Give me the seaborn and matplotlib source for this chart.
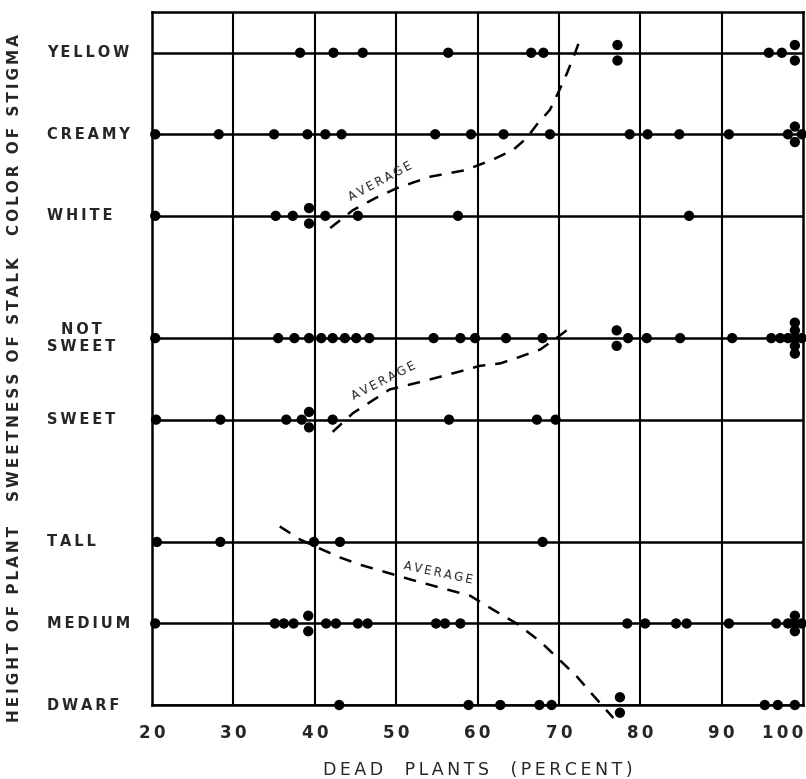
import matplotlib
matplotlib.use("Agg")
import matplotlib.pyplot as plt
import matplotlib.transforms as mtransforms
import numpy as np
import pandas as pd
import seaborn as sns

# dead plants (percent) for each class; repeated values get stacked round the row line
yellow = [38.2, 42.3, 45.9, 56.4, 66.6, 68.1, 77.2, 77.2, 95.8, 97.4, 99, 99]
creamy = [20.4, 28.2, 35.0, 39.1, 41.3, 43.3, 54.8, 59.2, 63.2, 68.9, 78.7, 80.9,
          84.8, 90.9, 99, 99, 99, 99]
white = [20.4, 35.2, 37.3, 39.3, 39.3, 41.3, 45.3, 57.6, 86.0]
not_sweet = [20.4, 35.5, 37.5, 39.3, 40.8, 42.2, 43.7, 45.1, 46.7, 54.6, 57.9, 59.7,
             63.5, 68.0, 77.1, 77.1, 78.5, 80.8, 84.9, 91.3, 96.1, 97.2,
             99, 99, 99, 99, 99, 99, 99]
sweet = [20.5, 28.4, 36.5, 38.4, 39.3, 39.3, 42.2, 56.5, 67.3, 69.6]
tall = [20.6, 28.4, 39.9, 43.1, 68.0]
medium = [20.4, 35.1, 36.2, 37.4, 39.2, 39.2, 41.4, 42.6, 45.3, 46.5, 54.9, 56.0, 57.9,
          78.4, 80.6, 84.4, 85.7, 90.9, 96.7, 99, 99, 99, 99, 99]
dwarf = [43.0, 58.9, 62.8, 67.6, 69.1, 77.5, 77.5, 95.3, 96.9, 99.0]

row_names = ["YELLOW", "CREAMY", "WHITE", "NOT\nSWEET", "SWEET", "TALL", "MEDIUM", "DWARF"]
row_pos = [0, 1, 2, 3.5, 4.5, 6, 7, 8]
row_values = [yellow, creamy, white, not_sweet, sweet, tall, medium, dwarf]

group_names = ["COLOR OF STIGMA", "SWEETNESS OF STALK", "HEIGHT OF PLANT"]
group_pos = [1, 4, 7]

x_ticks = [20, 30, 40, 50, 60, 70, 80, 90, 100]

# hand-drawn "average" curves: (percent, row position)
stigma_avg_x = [41.9, 44.7, 47.5, 50.1, 54.2, 58.5, 61.9, 64.4, 66.0, 67.3, 68.9, 70.1, 71.0, 72.0, 72.8]
stigma_avg_y = [2.15, 1.93, 1.78, 1.66, 1.52, 1.44, 1.31, 1.19, 1.05, 0.88, 0.70, 0.45, 0.25, 0.0, -0.22]
stalk_avg_x = [42.2, 44.7, 49.2, 53.3, 57.8, 60.3, 62.8, 65.2, 67.7, 69.7, 71.8]
stalk_avg_y = [4.65, 4.42, 4.13, 4.03, 3.91, 3.84, 3.81, 3.73, 3.64, 3.50, 3.34]
height_avg_x = [35.7, 38.2, 40.6, 43.1, 45.6, 49.7, 52.1, 55.4, 59.1, 61.9, 64.8, 67.7, 69.7, 72.2, 74.2, 76.7]
height_avg_y = [5.81, 5.97, 6.08, 6.19, 6.28, 6.40, 6.47, 6.56, 6.66, 6.83, 7.00, 7.22, 7.41, 7.65, 7.88, 8.16]

STACK = [(0, -1), (0, 1), (-1, 0), (1, 0), (0, 0), (0, -2), (0, 2)]
DX, DY = 0.85, 0.095


def spaced(text):
    return "\n".join("\u2009".join(line) for line in text.split("\n"))


rows = []
for name, pos, vals in zip(row_names, row_pos, row_values):
    vals = np.asarray(vals)
    for v in np.unique(vals):
        n = int((vals == v).sum())
        offs = [(0, 0)] if n == 1 else STACK[:n]
        for ox, oy in offs:
            rows.append({"pct": v + ox * DX, "row": pos + oy * DY, "cls": name})
pts = pd.DataFrame(rows)

sns.set_style("white")
plt.rcParams["font.family"] = "DejaVu Sans"

fig = plt.figure(figsize=(8.06, 7.79), dpi=100)
ax = fig.add_axes([152 / 806, 1 - 705 / 779, 651 / 806, 693 / 779])

for x in x_ticks[1:-1]:
    ax.axvline(x, color="black", lw=1.5, zorder=1)
for y in row_pos:
    ax.axhline(y, color="black", lw=1.8, zorder=1)

for xs, ys in [(stigma_avg_x, stigma_avg_y), (stalk_avg_x, stalk_avg_y), (height_avg_x, height_avg_y)]:
    line = pd.DataFrame({"x": xs, "y": ys})
    sns.lineplot(data=line, x="x", y="y", sort=False, estimator=None, ax=ax,
                 color="black", lw=1.8, dashes=False, zorder=2)
for ln in ax.lines[-3:]:
    ln.set_dashes([5, 4])
    ln.set_clip_on(False)

sns.scatterplot(data=pts, x="pct", y="row", ax=ax, color="black", s=55,
                edgecolor="none", zorder=3, clip_on=False, legend=False)

ax.set_xlim(20, 100)
ax.set_ylim(8, -0.5)
ax.set_xticks(x_ticks)
ax.set_xticklabels([spaced(str(t)) for t in x_ticks], fontsize=12, weight="bold")
ax.get_xticklabels()[-1].set_horizontalalignment("right")
ax.tick_params(axis="x", length=0, pad=14)
ax.set_yticks([])
ax.set_xlabel("")
ax.set_ylabel("")
for sp in ax.spines.values():
    sp.set_color("black")
    sp.set_linewidth(1.8)

fig.text(478 / 806, 1 - 770 / 779, spaced("DEAD  PLANTS  (PERCENT)"),
         ha="center", va="center", fontsize=12.5)

tr = mtransforms.blended_transform_factory(fig.transFigure, ax.transData)
for name, pos in zip(row_names, row_pos):
    ax.text(47 / 806, pos, spaced(name), transform=tr, ha="left", va="center",
            fontsize=10.5, weight="bold", multialignment="center", linespacing=1.2)
for name, pos in zip(group_names, group_pos):
    ax.text(15 / 806, pos, spaced(name), transform=tr, ha="center", va="center",
            rotation=90, fontsize=11, weight="bold")

avg_labels = [(48.1, 1.58, 28), (48.5, 4.03, 27), (55.1, 6.38, -12)]
for x, y, rot in avg_labels:
    ax.text(x, y, spaced("AVERAGE"), ha="center", va="center", rotation=rot,
            fontsize=8.5, rotation_mode="anchor")

fig.savefig("out.png", dpi=100)
